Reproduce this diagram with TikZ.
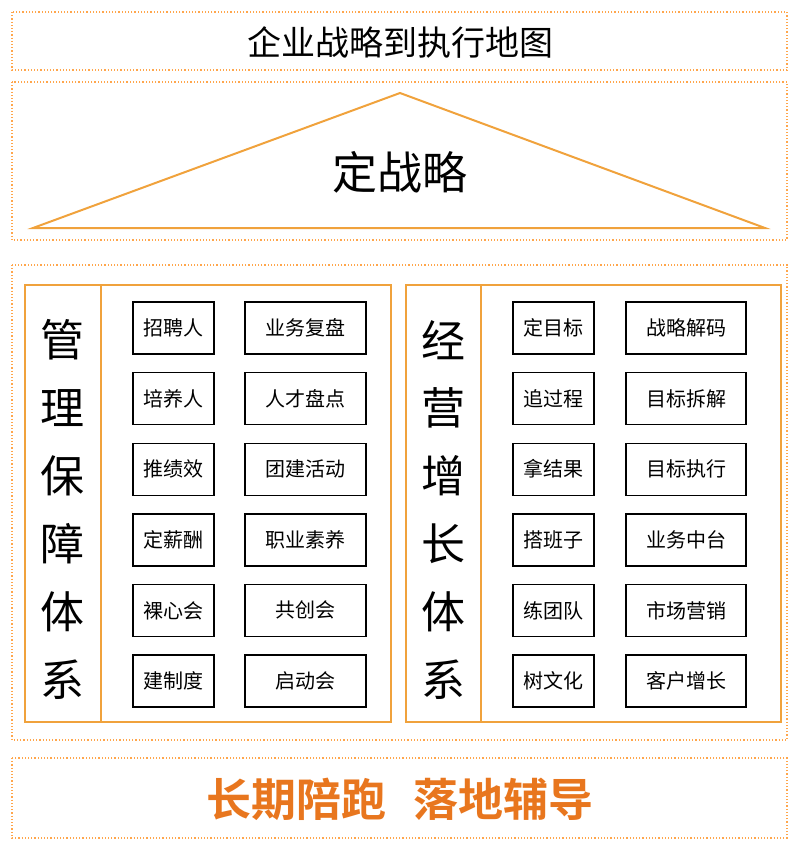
\documentclass[tikz,border=0pt]{standalone}
\usepackage{fontspec}
\setmainfont{Noto Sans CJK SC}[BoldFont={Noto Sans CJK SC Bold}]
\begin{document}
\begin{tikzpicture}[x=1pt,y=-1pt,
  dotbox/.style={draw=orange!70!white, line width=1.2pt, dotted},
  panel/.style={draw=orange!80!yellow, line width=2pt},
  item/.style={draw=black, line width=1.4pt, minimum height=52pt, font=\fontsize{20}{22}\selectfont, inner sep=0pt},
  vtext/.style={font=\fontsize{44}{46}\selectfont}]
\useasboundingbox (0,0) rectangle (800,847);
\definecolor{lineor}{HTML}{F0A23C}
\definecolor{textor}{HTML}{E8761E}
\draw[dotbox] (12,12) rectangle (787,70);
\node (title) at (400,42) {\fontsize{34}{36}\selectfont 企业战略到执行地图};
\draw[dotbox] (12,82) rectangle (787,240);
\draw[draw=lineor, line width=2pt] (400,93) -- (765,228) -- (33,228) -- cycle;
\node (strat) at (400,172) {\fontsize{45}{47}\selectfont 定战略};
\draw[dotbox] (12,265) rectangle (787,740);
\draw[panel,draw=lineor] (25,285) rectangle (391,722);
\draw[panel,draw=lineor] (101,285) -- (101,722);
\draw[panel,draw=lineor] (406,285) rectangle (781,722);
\draw[panel,draw=lineor] (481,285) -- (481,722);
\foreach \c [count=\i] in {管,理,保,障,体,系}
  \node[vtext] (l\i) at (63,272+68*\i) {\c};
\foreach \c [count=\i] in {经,营,增,长,体,系}
  \node[vtext] (r\i) at (443,272+68*\i) {\c};
\foreach \a/\b [count=\i] in {招聘人/业务复盘,培养人/人才盘点,推绩效/团建活动,定薪酬/职业素养,裸心会/共创会,建制度/启动会}{
  \pgfmathsetmacro\yy{328+70.6*(\i-1)}
  \node[item,minimum width=81pt] (la\i) at (173.5,\yy) {\a};
  \node[item,minimum width=121pt] (lb\i) at (305.5,\yy) {\b};
}
\foreach \a/\b [count=\i] in {定目标/战略解码,追过程/目标拆解,拿结果/目标执行,搭班子/业务中台,练团队/市场营销,树文化/客户增长}{
  \pgfmathsetmacro\yy{328+70.6*(\i-1)}
  \node[item,minimum width=81pt] (ra\i) at (553.5,\yy) {\a};
  \node[item,minimum width=120pt] (rb\i) at (686,\yy) {\b};
}
\draw[dotbox] (12,758) rectangle (787,838);
\node[text=textor] (bottom) at (400,799) {\fontsize{45}{47}\selectfont\bfseries 长期陪跑\hspace{0.6em}落地辅导};
\end{tikzpicture}
\end{document}
